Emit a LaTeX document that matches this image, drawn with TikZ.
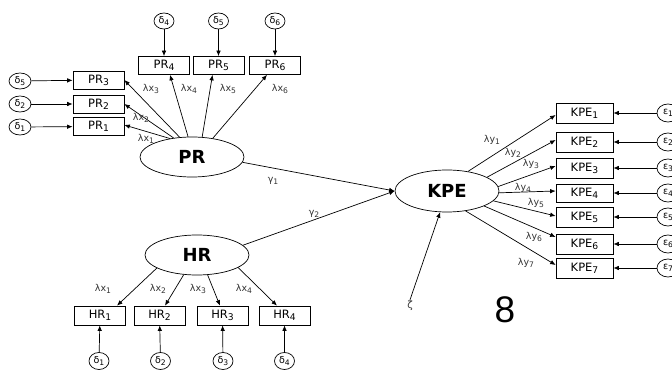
\documentclass[tikz,border=0pt]{standalone}
\usepackage{fontspec}
\usepackage{graphicx}
\setmainfont{DejaVu Sans}
\newfontfamily\digitfont{Liberation Sans}
\usetikzlibrary{arrows.meta,shapes.geometric}
% index set slightly lowered, at four fifths of the running size
\newcommand\idx[1]{\raisebox{-0.35ex}{\scalebox{0.8}{#1}}}
\begin{document}
\begin{tikzpicture}[x=1pt,y=-1pt,
  line width=0.7pt,
  conn/.style={-{Latex[length=5.5pt,width=4.5pt]}},
  latent/.style={ellipse,draw,inner sep=0pt,minimum width=104pt,minimum height=40pt,
    font=\bfseries\fontsize{18}{20}\selectfont},
  indicator/.style={rectangle,draw,inner sep=0pt,minimum width=51pt,minimum height=18pt,
    font=\fontsize{11.5}{13}\selectfont},
  kpebox/.style={indicator,minimum width=57pt,minimum height=20pt},
  errnode/.style={ellipse,draw,inner sep=0pt,minimum width=20pt,minimum height=16pt,
    font=\fontsize{9.5}{11}\selectfont},
  coef/.style={inner sep=0.5pt,text=black!80,font=\fontsize{9.5}{11}\selectfont},
]
\clip (0,0) rectangle (672,371);
\fill[white] (0,0) rectangle (672,371);

% ---------- latent variables ----------
\node[latent] (pr)  at (192,157) {PR};
\node[latent] (hr)  at (197,255) {HR};
\node[latent, minimum height=42pt] (kpe) at (447,191) {KPE};

% ---------- PR indicators ----------
\node[indicator] (pr4) at (164,65.5) {PR\idx{4}};
\node[indicator] (pr5) at (218.5,65.5) {PR\idx{5}};
\node[indicator] (pr6) at (275,65.5) {PR\idx{6}};
\node[indicator] (pr3) at (98.5,80) {PR\idx{3}};
\node[indicator] (pr2) at (98.5,104) {PR\idx{2}};
\node[indicator] (pr1) at (98.5,126.5) {PR\idx{1}};

\node[errnode] (d4) at (164,21) {δ\idx{4}};
\node[errnode] (d5) at (218.5,21) {δ\idx{5}};
\node[errnode] (d6) at (275,21) {δ\idx{6}};
\node[errnode, minimum width=22pt] (d3) at (20,81) {δ\idx{5}};
\node[errnode, minimum width=22pt] (d2) at (20,104) {δ\idx{2}};
\node[errnode, minimum width=22pt] (d1) at (20,127) {δ\idx{1}};

\draw[conn] (d4) -- (pr4);
\draw[conn] (d5) -- (pr5);
\draw[conn] (d6) -- (pr6);
\draw[conn] (d3) -- (pr3);
\draw[conn] (d2) -- (pr2);
\draw[conn] (d1) -- (pr1);

\draw[conn] (pr.140) -- ([yshift=1.5pt]pr1.east);
\draw[conn] (pr.134) -- (pr2.east);
\draw[conn] (pr.122) -- (pr3.east);
\draw[conn] (pr.101) -- ([xshift=6pt]pr4.south);
\draw[conn] (pr.63)  -- ([xshift=-6pt]pr5.south);
\draw[conn] (pr.42)  -- ([xshift=-8pt]pr6.south);

\node[coef] (lx1) at (146,139) {λx\idx{1}};
\node[coef] (lx2) at (141,118) {λx\idx{2}};
\node[coef] (lx3) at (151,89) {λx\idx{3}};
\node[coef] (lx4) at (189,89) {λx\idx{4}};
\node[coef] (lx5) at (228,89) {λx\idx{5}};
\node[coef] (lx6) at (280,89) {λx\idx{6}};

% ---------- HR indicators ----------
\node[indicator, minimum height=19pt] (hr1) at (100,315.5) {HR\idx{1}};
\node[indicator, minimum height=19pt] (hr2) at (159.5,315.5) {HR\idx{2}};
\node[indicator, minimum height=19pt] (hr3) at (222.5,315.5) {HR\idx{3}};
\node[indicator, minimum height=19pt] (hr4) at (284.5,315.5) {HR\idx{4}};

\node[errnode, minimum height=17pt] (e1) at (99,361) {δ\idx{1}};
\node[errnode, minimum height=17pt] (e2) at (160.5,361) {δ\idx{2}};
\node[errnode, minimum height=17pt] (e3) at (223,361) {δ\idx{3}};
\node[errnode, minimum height=17pt] (e4) at (284.5,361) {δ\idx{4}};

\draw[conn] (e1) -- (hr1);
\draw[conn] (e2) -- (hr2);
\draw[conn] (e3) -- (hr3);
\draw[conn] (e4) -- (hr4);

\draw[conn] (hr.198) -- ([xshift=17pt]hr1.north);
\draw[conn] (hr.236) -- ([xshift=5.5pt]hr2.north);
\draw[conn] (hr.298) -- ([xshift=-2.5pt]hr3.north);
\draw[conn] (hr.343) -- ([xshift=-7.5pt]hr4.north);

\node[coef] (hx1) at (103,289) {λx\idx{1}};
\node[coef] (hx2) at (158,289) {λx\idx{2}};
\node[coef] (hx3) at (198,289) {λx\idx{3}};
\node[coef] (hx4) at (244,289) {λx\idx{4}};

% ---------- structural paths ----------
\draw[conn] (pr.-6) -- (kpe.west);
\draw[conn] (hr.12) -- (kpe.west);
\node[coef] (g1) at (273,181) {γ\idx{1}};
\node[coef] (g2) at (314,214) {γ\idx{2}};

\node[inner sep=1pt, text=black!80, font=\fontsize{10}{11}\selectfont] (zeta) at (410,306) {ζ};
\draw[conn] (zeta.north) -- (kpe.252);

% ---------- KPE indicators ----------
\node[kpebox] (k1) at (584.5,113) {KPE\idx{1}};
\node[kpebox] (k2) at (584.5,142) {KPE\idx{2}};
\node[kpebox] (k3) at (584.5,168) {KPE\idx{3}};
\node[kpebox, minimum height=18pt] (k4) at (584.5,193) {KPE\idx{4}};
\node[kpebox] (k5) at (584.5,217) {KPE\idx{5}};
\node[kpebox] (k6) at (584.5,244) {KPE\idx{6}};
\node[kpebox] (k7) at (584.5,268) {KPE\idx{7}};

\foreach \i/\yy in {1/113,2/142,3/168,4/193,5/217,6/244,7/268}{
  \node[errnode, minimum width=22pt, minimum height=18pt] (eps\i) at (668,\yy) {ε\idx{\i}};
  \draw[conn] (eps\i) -- (k\i);
}

\draw[conn] (kpe.43)  -- ([yshift=-2pt]k1.west);
\draw[conn] (kpe.19)  -- ([yshift=2pt]k2.west);
\draw[conn] (kpe.5)   -- ([yshift=2pt]k3.west);
\draw[conn] (kpe.-2)  -- ([yshift=2pt]k4.west);
\draw[conn] (kpe.-12) -- ([yshift=1pt]k5.west);
\draw[conn] (kpe.-22) -- ([yshift=7pt]k6.west);
\draw[conn] (kpe.-47) -- ([yshift=3pt]k7.west);

\node[coef] (ly1) at (492,140) {λy\idx{1}};
\node[coef] (ly2) at (513,153) {λy\idx{2}};
\node[coef] (ly3) at (531,164) {λy\idx{3}};
\node[coef] (ly4) at (523,188) {λy\idx{4}};
\node[coef] (ly5) at (536,203) {λy\idx{5}};
\node[coef] (ly6) at (534,237) {λy\idx{6}};
\node[coef] (ly7) at (526,263) {λy\idx{7}};

% ---------- figure number ----------
\node[inner sep=0pt, font=\digitfont\fontsize{37}{40}\selectfont] (num) at (505,310) {8};
\end{tikzpicture}
\end{document}
